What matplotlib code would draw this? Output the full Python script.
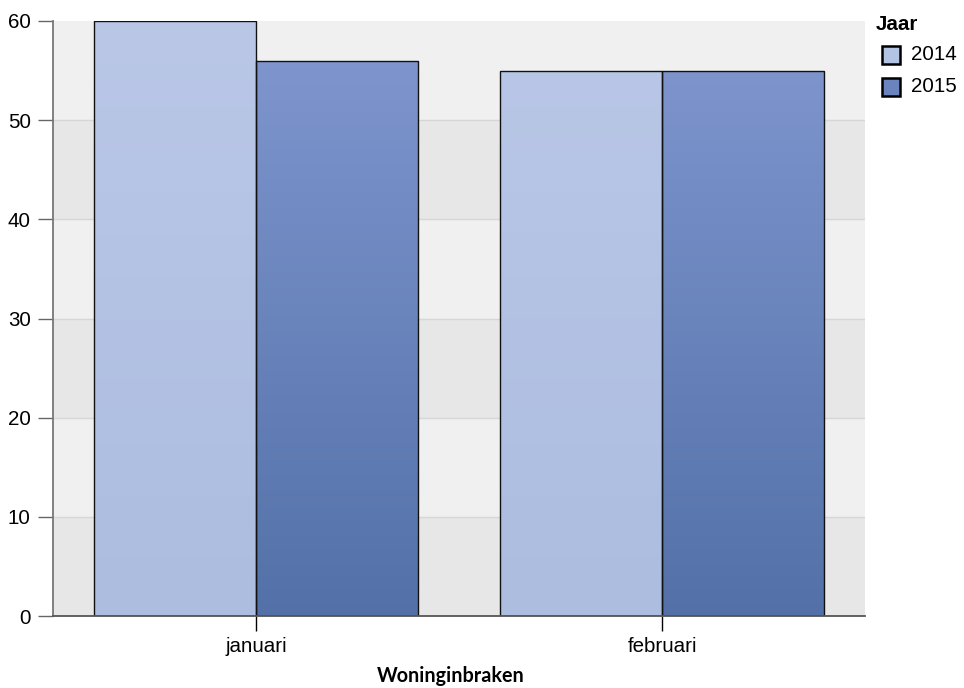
import numpy as np
import matplotlib
matplotlib.use("Agg")
import matplotlib.pyplot as plt
from matplotlib.colors import LinearSegmentedColormap
from matplotlib.patches import Rectangle

plt.rcParams["font.family"] = ["Liberation Sans", "DejaVu Sans"]

months = ["januari", "februari"]
years = ["2014", "2015"]
values_2014 = [60, 55]
values_2015 = [56, 55]
y_ticks = [0, 10, 20, 30, 40, 50, 60]
x_title = "Woninginbraken"
legend_title = "Jaar"

series = [values_2014, values_2015]
top_colors = ["#bac7e7", "#8197d0"]
bot_colors = ["#acbde0", "#5371a8"]
legend_colors = ["#b3c3e4", "#6b84be"]

W, H = 964, 688
fig = plt.figure(figsize=(W / 100, H / 100), dpi=100)
ax = fig.add_axes([53 / W, 1 - 616 / H, (865 - 53) / W, (616 - 21) / H])

ax.set_xlim(-0.5, len(months) - 0.5)
ax.set_ylim(0, 60)

# background bands
for i, lo in enumerate(y_ticks[:-1]):
    c = "#e7e7e7" if i % 2 == 0 else "#f0f0f0"
    ax.axhspan(lo, lo + 10, color=c, zorder=0, lw=0)
for t in y_ticks[1:-1]:
    ax.axhline(t, color="#d6d6d6", lw=1, zorder=0.5)

group_w = 0.8
bar_w = group_w / len(years)
for s, vals in enumerate(series):
    cmap = LinearSegmentedColormap.from_list("g%d" % s, [bot_colors[s], top_colors[s]])
    for i, v in enumerate(vals):
        x0 = i - group_w / 2 + s * bar_w
        grad = np.linspace(0, 1, 256).reshape(-1, 1) * (v / 60)
        im = ax.imshow(grad, extent=[x0, x0 + bar_w, 0, 60], origin="lower",
                       aspect="auto", cmap=cmap, vmin=0, vmax=v / 60 if v else 1,
                       zorder=2, interpolation="bilinear")
        rect = Rectangle((x0, 0), bar_w, v, facecolor="none", edgecolor="#111111",
                         lw=1, zorder=3)
        ax.add_patch(rect)
        im.set_clip_path(rect)

ax.set_xlim(-0.5, len(months) - 0.5)
ax.set_ylim(0, 60)

ax.set_xticks(range(len(months)))
ax.set_xticklabels(months)
ax.set_yticks(y_ticks)
ax.set_yticklabels([str(t) for t in y_ticks])
ax.tick_params(axis="y", length=11, color="#666666", width=1, labelsize=14.8,
               pad=5)
ax.tick_params(axis="x", length=11, color="#000000", width=1, labelsize=14.8,
               pad=4)

for sp in ["top", "right"]:
    ax.spines[sp].set_visible(False)
ax.spines["left"].set_color("#777777")
ax.spines["left"].set_linewidth(1.3)
ax.spines["bottom"].set_color("#555555")
ax.spines["bottom"].set_linewidth(1.3)
ax.spines["left"].set_zorder(4)
ax.spines["bottom"].set_zorder(4)

fig.text(451 / W, 1 - 676 / H, x_title, ha="center", va="center",
         fontsize=14.2, fontweight="bold", family="Lato")

# legend
fig.text(876 / W, 1 - 25 / H, legend_title, ha="left", va="center",
         fontsize=14.8, fontweight="bold")
for k, y in enumerate(years):
    yc = 55 + k * 32
    fig.patches.append(Rectangle((882 / W, 1 - (yc + 9) / H), 18 / W, 18 / H,
                                 transform=fig.transFigure, facecolor=legend_colors[k],
                                 edgecolor="black", lw=1.8))
    fig.text(911 / W, 1 - yc / H, y, ha="left", va="center", fontsize=14.8)

fig.savefig("out.png", dpi=100)
